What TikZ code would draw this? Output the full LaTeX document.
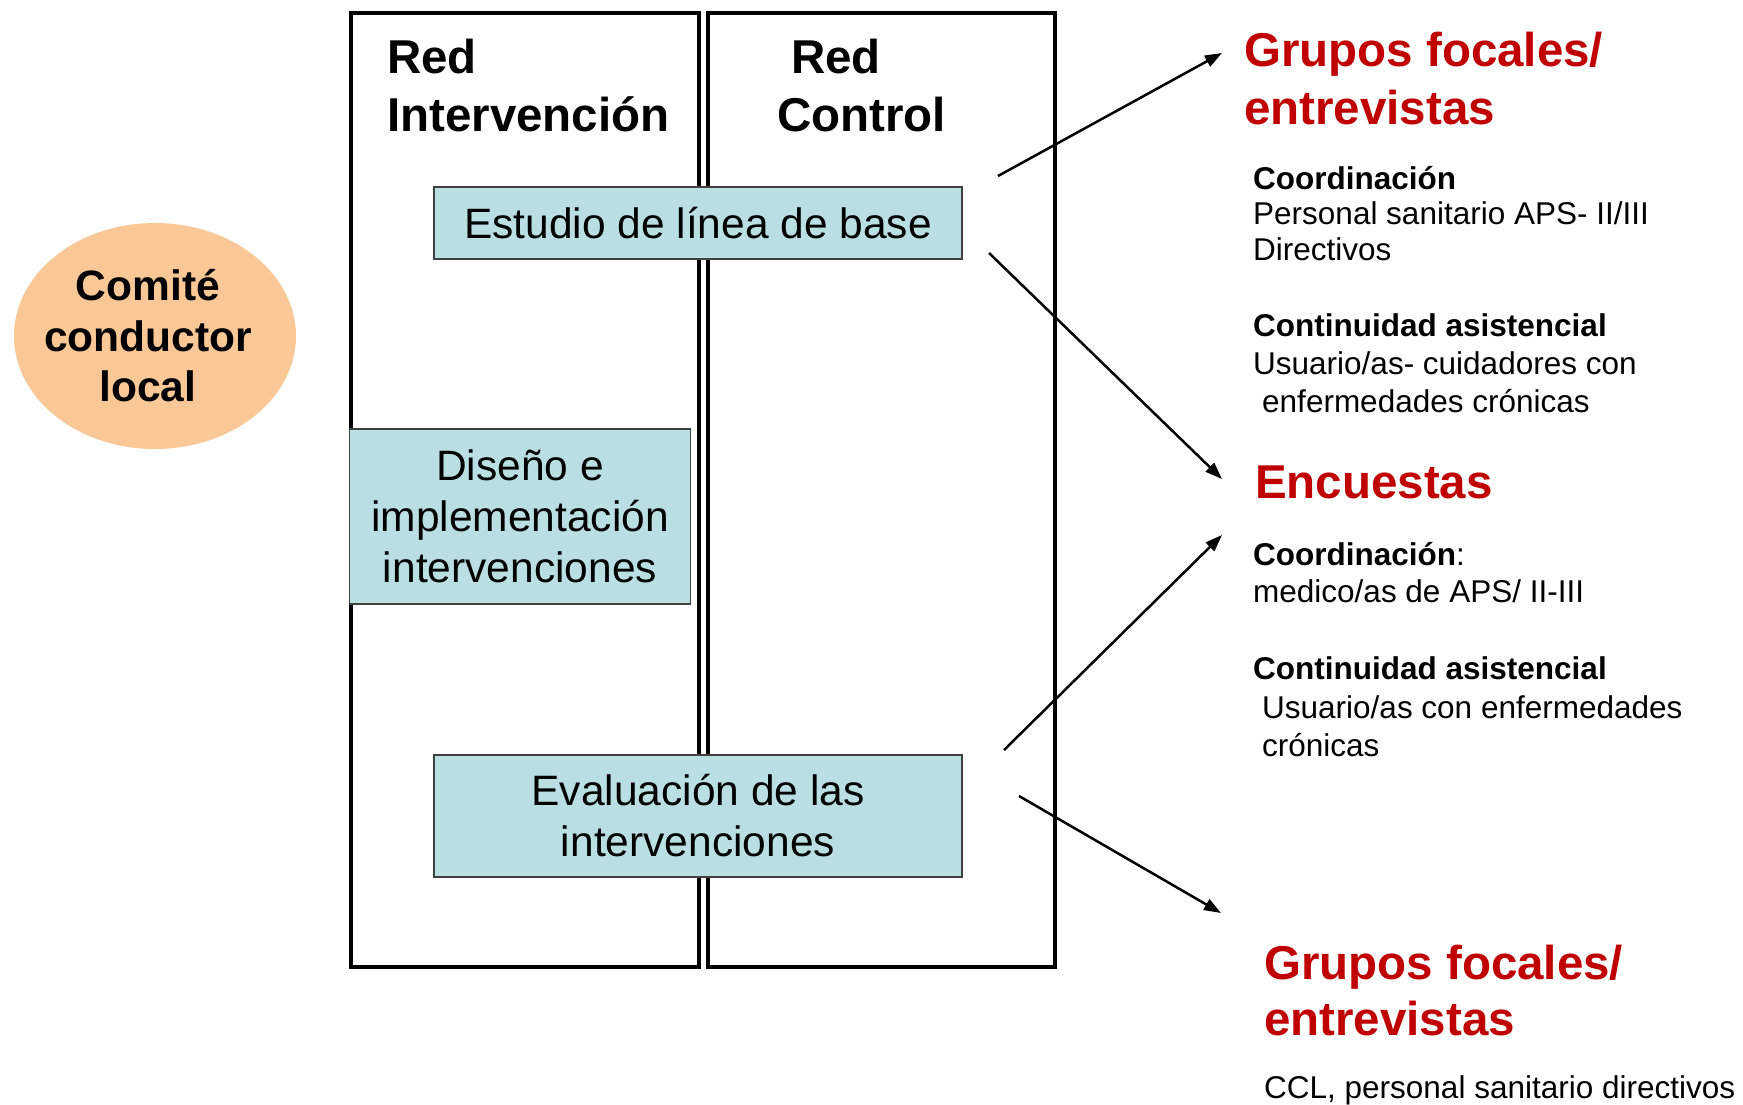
\documentclass[tikz,border=0pt]{standalone}
\usepackage{fontspec}
\setmainfont{Liberation Sans}
\usetikzlibrary{arrows.meta,shapes.geometric}
\definecolor{boxblue}{HTML}{B9DFE3}
\definecolor{peach}{HTML}{FAC896}
\definecolor{darkred}{HTML}{C00000}
\begin{document}
\begin{tikzpicture}[x=1pt,y=-1pt,
  outer/.style={draw=black,line width=3.5pt,inner sep=0pt,anchor=north west},
  stage/.style={draw=black!75,line width=1.5pt,fill=boxblue,align=center,inner sep=0pt,
    font=\fontsize{42.5}{51}\selectfont},
  head/.style={anchor=base west,inner sep=0pt,font=\bfseries\fontsize{47.5}{58}\selectfont},
  rtitle/.style={anchor=base west,inner sep=0pt,text=darkred,font=\bfseries\fontsize{47.5}{58}\selectfont},
  small/.style={anchor=base west,inner sep=0pt,font=\fontsize{31.5}{37}\selectfont},
  smallb/.style={small,font=\bfseries\fontsize{31.5}{37}\selectfont},
  arr/.style={line width=2.5pt,-{Triangle[length=17pt,width=12pt]}}
]
\useasboundingbox (0,0) rectangle (1743,1104);
\fill[white] (0,0) rectangle (1743,1104);

% columns
\node[outer,minimum width=348pt,minimum height=954pt] (colint) at (349,11) {};
\node[outer,minimum width=347pt,minimum height=954pt] (colctl) at (706,11) {};

% column titles
\node[head] (redint1) at (387,73) {Red};
\node[head] (redint2) at (387,131) {Intervención};
\node[head] (redctl1) at (791,73) {Red};
\node[head] (redctl2) at (777,131) {Control};

% stages
\node[stage,minimum width=528pt,minimum height=72pt] (estudio) at (698,223) {Estudio de línea de base};
\node[stage,minimum width=341pt,minimum height=175pt] (diseno) at (520,516.5) {Diseño e\\implementación\\intervenciones};
\node[stage,minimum width=528pt,minimum height=122pt] (evaluacion) at (698,816) {Evaluación de las\\intervenciones};

% committee
\node[ellipse,fill=peach,minimum width=282pt,minimum height=226pt,inner sep=0pt,
  label={[xshift=-7pt,align=center,font=\bfseries\fontsize{42.5}{50.5}\selectfont]center:{Comité\\conductor\\local}}]
  (comite) at (155,336) {};

% right side texts
\node[rtitle] (gfa1) at (1244,66) {Grupos focales/};
\node[rtitle] (gfa2) at (1244,124) {entrevistas};
\node[smallb] (c1a) at (1253,189.5) {Coordinación};
\node[small] (c1b) at (1253,224.5) {Personal sanitario APS- II/III};
\node[small] (c1c) at (1253,260.5) {Directivos};
\node[smallb] (c1d) at (1253,336.5) {Continuidad asistencial};
\node[small] (c1e) at (1253,374.5) {Usuario/as- cuidadores con};
\node[small] (c1f) at (1262,412.5) {enfermedades crónicas};

\node[rtitle] (enc) at (1255,498) {Encuestas};
\node[small] (c2a) at (1253,565.5) {\textbf{Coordinación}:};
\node[small] (c2b) at (1253,602.5) {medico/as de APS/ II-III};
\node[smallb] (c2c) at (1253,679.5) {Continuidad asistencial};
\node[small] (c2d) at (1262,718.5) {Usuario/as con enfermedades};
\node[small] (c2e) at (1262,756.5) {crónicas};

\node[rtitle] (gfb1) at (1264,979) {Grupos focales/};
\node[rtitle] (gfb2) at (1264,1035) {entrevistas};
\node[small] (ccl) at (1264,1098.5) {CCL, personal sanitario directivos};

% arrows
\coordinate (a1s) at (998,176);
\coordinate (a1e) at (1222,53);
\coordinate (a2s) at (989,253);
\coordinate (a2e) at (1222,479);
\coordinate (a3s) at (1004,750);
\coordinate (a3e) at (1222,535);
\coordinate (a4s) at (1019,796);
\coordinate (a4e) at (1221,913);
\draw[arr] (a1s) -- (a1e);
\draw[arr] (a2s) -- (a2e);
\draw[arr] (a3s) -- (a3e);
\draw[arr] (a4s) -- (a4e);
\end{tikzpicture}
\end{document}
